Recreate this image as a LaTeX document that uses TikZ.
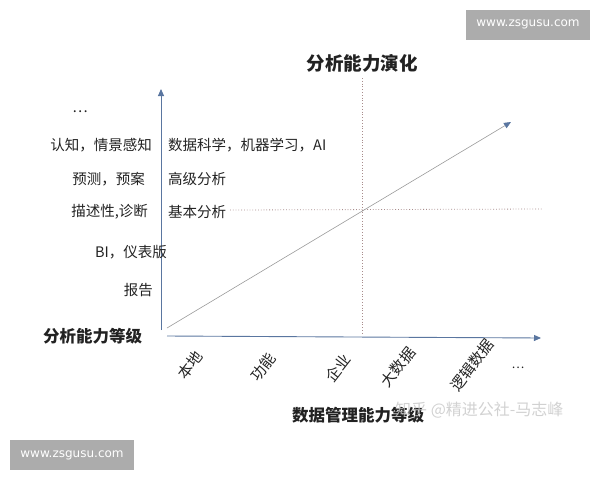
\documentclass[tikz,border=0pt]{standalone}
\usepackage{fontspec}
\setmainfont{Noto Sans CJK SC}
\newfontfamily\webfont{DejaVu Sans}
\usetikzlibrary{arrows.meta}
\definecolor{axisblue}{HTML}{5A76A0}
\definecolor{linegray}{HTML}{9A9A9A}
\definecolor{guidered}{HTML}{A88C8C}
\definecolor{ink}{HTML}{222222}

\tikzstyle{axis}=[draw=axisblue,line width=0.9pt,-{Triangle[length=7pt,width=6pt]}]
\tikzstyle{trend}=[draw=linegray,line width=0.6pt,-{Triangle[length=7pt,width=6pt,color=axisblue]}]
\tikzstyle{guide}=[draw=guidered,dotted,line width=0.8pt]
\tikzstyle{level}=[text=ink,font=\fontsize{14.5}{16}\selectfont,anchor=east,inner sep=0pt]
\tikzstyle{method}=[text=ink,font=\fontsize{14.5}{16}\selectfont,anchor=west,inner sep=0pt]
\tikzstyle{stage}=[text=ink,font=\fontsize{15}{16}\selectfont,rotate=52,inner sep=0pt]
\tikzstyle{heading}=[text=ink,font=\bfseries\fontsize{16.5}{18}\selectfont,inner sep=0pt]
\tikzstyle{stamp}=[fill=gray!65,text=white,font=\webfont\fontsize{12}{14}\selectfont,minimum width=124pt,minimum height=30pt,inner sep=0pt]

\begin{document}
\begin{tikzpicture}[x=1pt,y=-1pt]
                  \useasboundingbox (0,0) rectangle (600,480);
                  % Axes and guide points
                  \coordinate (ybase) at (161,330);
                  \coordinate (ytop) at (161,89);
                  \coordinate (xbase) at (167,336);
                  \coordinate (xend) at (541,338);
                  \coordinate (tstart) at (167,328);
                  \coordinate (tend) at (511,122);
                  \coordinate (vtop) at (362,78);
                  \coordinate (vbot) at (362,333);
                  \coordinate (hleft) at (230,210);
                  \coordinate (hright) at (542,209);
                  \path[guide] (vtop) -- (vbot);
                  \path[guide] (hleft) -- (hright);
                  \path[axis] (ybase) -- (ytop);
                  \path[axis] (xbase) -- (xend);
                  \path[trend] (tstart) -- (tend);
                  % Analysis levels on the left of the vertical axis
                  \foreach \pos/\name/\la in {{(88,112)/more/…},
                  {(152,145)/cog/认知，情景感知},
                  {(145,179)/pred/预测，预案},
                  {(148,212)/desc/描述性,诊断},
                  {(167,252)/bi/BI，仪表版},
                  {(153,290)/rep/报告}}
                        \node[level] (\name) at \pos {\la};
                  % Methods on the right of the vertical axis
                  \foreach \pos/\name/\la in {{(168,145)/ai/数据科学，机器学习，AI},
                  {(168,179)/adv/高级分析},
                  {(168,212)/basic/基本分析}}
                        \node[method] (\name) at \pos {\la};
                  % Data management stages under the horizontal axis
                  \foreach \pos/\name/\la in {{(190,365)/local/本地},
                  {(263,367)/func/功能},
                  {(338,368)/ent/企业},
                  {(398,367)/big/大数据},
                  {(472,365)/logic/逻辑数据}}
                        \node[stage] (\name) at \pos {\la};
                  \node[text=ink,font=\fontsize{12}{14}\selectfont] (etc) at (518,368) {…};
                  % Titles
                  \node[heading,font=\bfseries\fontsize{18.5}{20}\selectfont] (title) at (362,63) {分析能力演化};
                  \node[heading,anchor=west] (ylabel) at (43,336) {分析能力等级};
                  \node[heading] (xlabel) at (358,415) {数据管理能力等级};
                  % Watermarks
                  \node[text=gray!45,opacity=0.8,font=\fontsize{16}{18}\selectfont,anchor=west,inner sep=0pt] (zhihu) at (395,410) {知乎 @精进公社-马志峰};
                  \node[stamp] (webtop) at (528,24.5) {www.zsgusu.com};
                  \node[stamp] (webbot) at (72,455) {www.zsgusu.com};
            \end{tikzpicture}
\end{document}
